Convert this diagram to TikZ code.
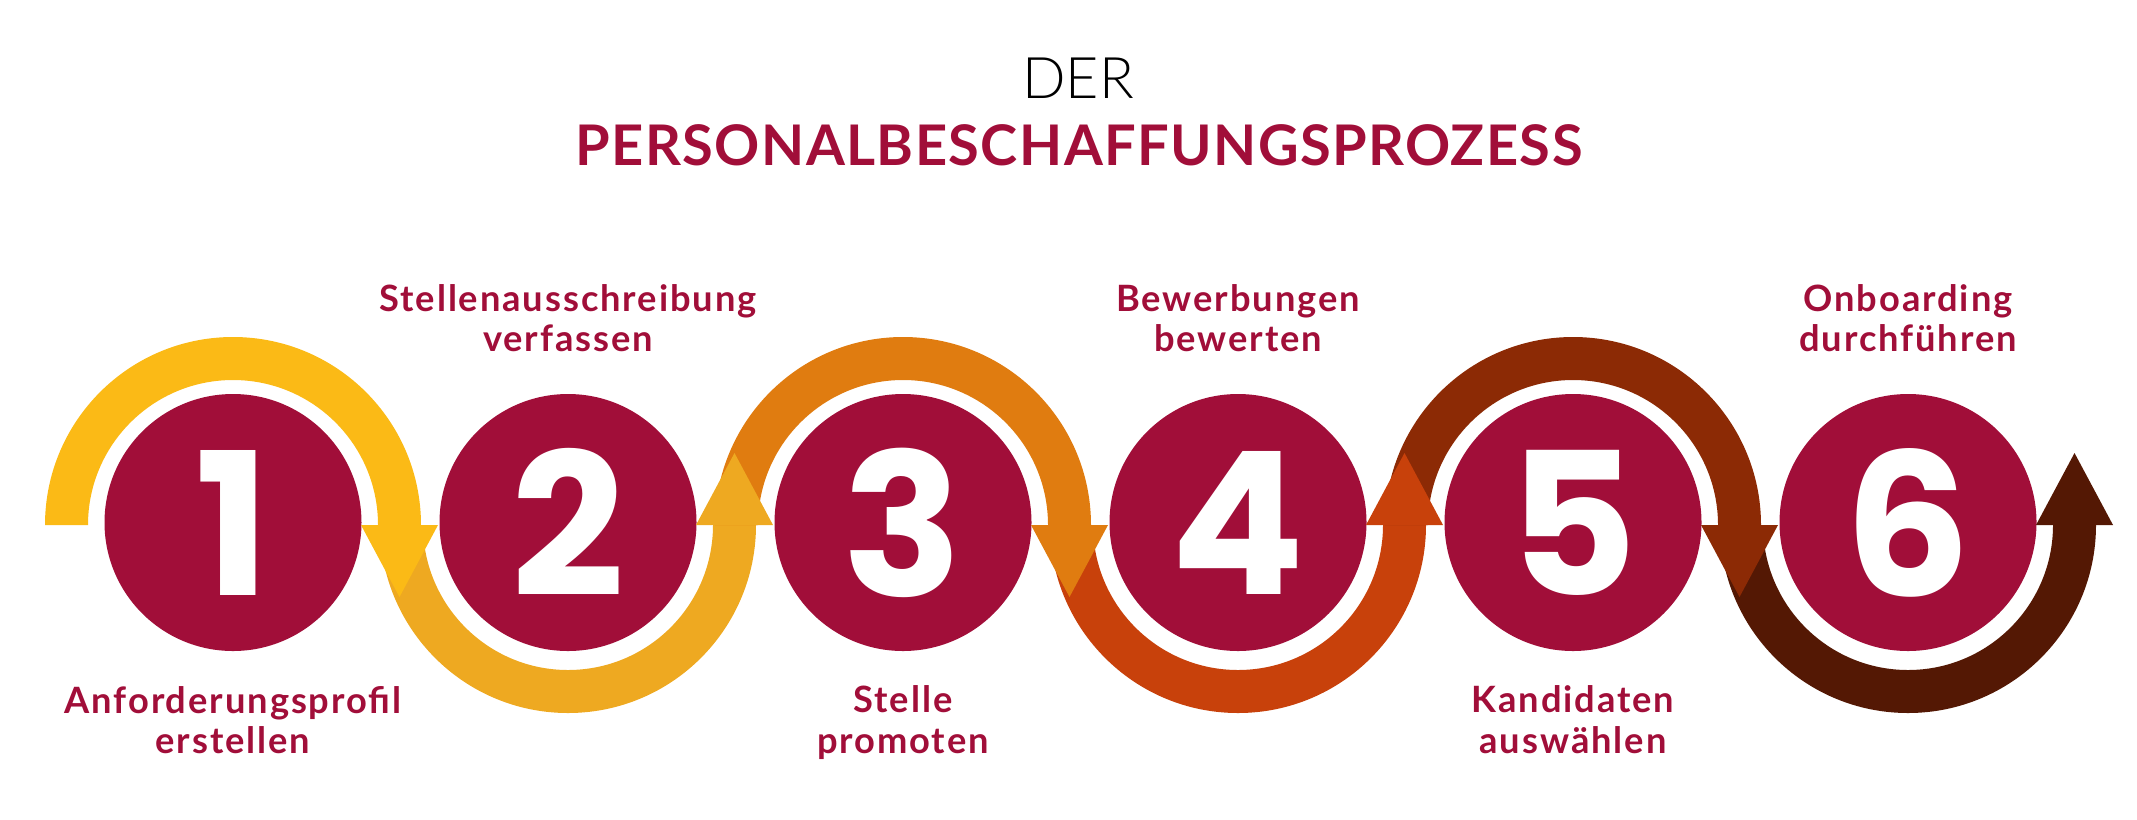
\documentclass[tikz,border=0pt]{standalone}
\usepackage{fontspec}
\setmainfont{Lato}
\newfontfamily\thinfont{Lato Light}
\newfontfamily\digitfont{Poppins}
\newfontfamily\labelfont{Lato}[LetterSpace=5.3]
\newfontfamily\headfont{Lato}[LetterSpace=2.5]
\usetikzlibrary{positioning,calc}

\definecolor{stepred}{RGB}{161,14,57}
\definecolor{ringA}{RGB}{251,186,22}
\definecolor{ringB}{RGB}{238,169,33}
\definecolor{ringC}{RGB}{224,124,16}
\definecolor{ringD}{RGB}{200,65,11}
\definecolor{ringE}{RGB}{140,42,5}
\definecolor{ringF}{RGB}{84,24,4}

\tikzset{every picture/.style={line width=0.75pt}}
\tikzset{
  stepdot/.style={circle,fill=stepred,inner sep=0pt,minimum size=192.75pt,text=white,
    font=\digitfont\bfseries\fontsize{149}{149}\selectfont},
  steplabel/.style={align=center,inner sep=0pt,text=stepred,
    font=\labelfont\bfseries\fontsize{27.2}{30.5}\selectfont},
}

\begin{document}
\begin{tikzpicture}[x=0.75pt,y=0.75pt,yscale=-1,xscale=1]
\path[use as bounding box] (0,0) rectangle (2137,819);

%Text Node
\node[font=\thinfont\fontsize{43}{43}\selectfont,anchor=base] (titletop) at (1078,98) {DER};
%Text Node
\node[font=\headfont\bfseries\fontsize{42}{42}\selectfont,text=stepred,anchor=base] (titlemain) at (1079,165) {PERSONALBESCHAFFUNGSPROZESS};

%Shape: Circle
\foreach \i in {1,...,6}
  \node[stepdot] (c\i) at ({233+335*(\i-1)},522.5) {\i};

%Shape: Arc
\foreach \i/\ringcol in {1/ringA,2/ringB,3/ringC,4/ringD,5/ringE,6/ringF}{
  \pgfmathsetmacro{\endang}{ifthenelse(mod(\i,2)==1,360,0)}
  \fill[\ringcol] ($(c\i.center)+(-188,2.5)$) arc[start angle=180,end angle=\endang,radius=188]
    -- ++(-43,0) arc[start angle=\endang,end angle=180,radius=145] -- cycle;
}

%Shape: Triangle
\foreach \i/\ringcol in {1/ringA,2/ringB,3/ringC,4/ringD,5/ringE,6/ringF}{
  \pgfmathsetmacro{\tipdir}{ifthenelse(mod(\i,2)==1,72,-72)}
  \fill[\ringcol] ($(c\i.center)+(128,2.5)$) -- ($(c\i.center)+(205,2.5)$)
    -- ($(c\i.center)+(166.5,2.5+\tipdir)$) -- cycle;
}

%Text Node
\node[steplabel,below=25.5pt of c1] (lab1) {Anforderungsprofil\\erstellen};
\node[steplabel,above=30.75pt of c2] (lab2) {Stellenausschreibung\\verfassen};
\node[steplabel,below=25.5pt of c3] (lab3) {Stelle\\promoten};
\node[steplabel,above=30.75pt of c4] (lab4) {Bewerbungen\\bewerten};
\node[steplabel,below=25.5pt of c5] (lab5) {Kandidaten\\auswählen};
\node[steplabel,above=30.75pt of c6] (lab6) {Onboarding\\durchführen};

\end{tikzpicture}
\end{document}
